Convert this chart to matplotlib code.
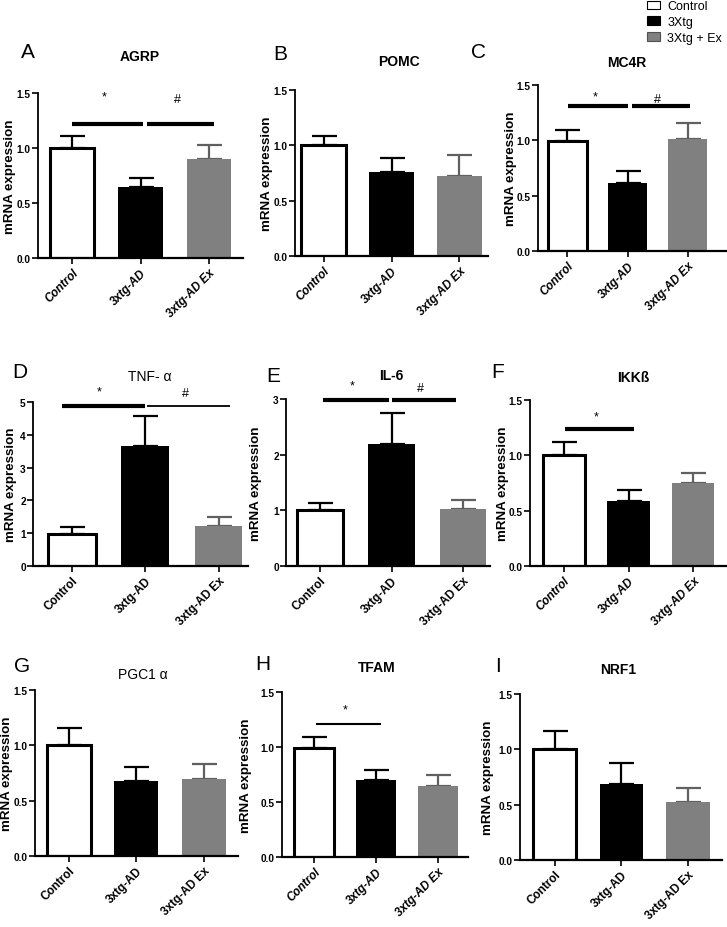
import matplotlib
matplotlib.use('Agg')
import matplotlib.pyplot as plt
from matplotlib.patches import Patch

# data
groups = ['Control', '3xtg-AD', '3xtg-AD Ex']
genes = ['AGRP', 'POMC', 'MC4R', 'TNF- α', 'IL-6', 'IKKß', 'PGC1 α', 'TFAM', 'NRF1']
letters = ['A', 'B', 'C', 'D', 'E', 'F', 'G', 'H', 'I']
mean_control = [1.00, 1.00, 0.99, 0.97, 1.00, 1.00, 1.00, 0.99, 1.00]
mean_ad = [0.65, 0.76, 0.61, 3.66, 2.19, 0.59, 0.68, 0.70, 0.69]
mean_ex = [0.90, 0.72, 1.01, 1.22, 1.03, 0.75, 0.70, 0.65, 0.52]
sem_control = [0.11, 0.08, 0.10, 0.21, 0.13, 0.12, 0.16, 0.10, 0.17]
sem_ad = [0.075, 0.13, 0.115, 0.90, 0.56, 0.10, 0.12, 0.09, 0.19]
sem_ex = [0.125, 0.195, 0.15, 0.28, 0.155, 0.09, 0.135, 0.10, 0.13]
ymax = [1.5, 1.5, 1.5, 5, 3, 1.5, 1.5, 1.5, 1.5]
ystep = [0.5, 0.5, 0.5, 1, 1, 0.5, 0.5, 0.5, 0.5]
legend_labels = ['Control', '3Xtg', '3Xtg + Ex']

# significance bars: panel -> list of (x0, x1, y, symbol, text_y, lw)
sig = {
    0: [(0.0, 1.04, 1.22, '*', 1.47, 3), (1.1, 2.08, 1.22, '#', 1.445, 3)],
    2: [(0.01, 1.0, 1.31, '*', 1.40, 3), (1.07, 2.03, 1.31, '#', 1.37, 3)],
    3: [(-0.14, 0.99, 4.89, '*', 5.33, 3), (1.03, 2.16, 4.89, '#', 5.27, 1.3)],
    4: [(0.04, 0.96, 2.98, '*', 3.25, 3), (1.0, 1.91, 2.98, '#', 3.2, 3)],
    5: [(0.02, 1.08, 1.235, '*', 1.35, 3)],
    7: [(0.03, 1.08, 1.21, '*', 1.34, 1.5)],
}

W, H = 727, 928
# axes boxes in pixels: left, top, right, bottom
boxes = [(38, 94, 243, 259), (295, 91, 488, 257), (538, 86, 727, 252),
         (33, 403, 248, 567), (286, 400, 490, 567), (530, 401, 727, 567),
         (35, 691, 238, 857), (282, 693, 468, 858), (520, 695, 722, 861)]
xlims = [(-0.5, 2.5), (-0.42, 2.42), (-0.49, 2.65),
         (-0.53, 2.4), (-0.48, 2.38), (-0.52, 2.52),
         (-0.5, 2.51), (-0.52, 2.49), (-0.52, 2.51)]
ylab_x = [16, 273, 517, 17, 262, 509, 13, 252, 494]
letter_pos = [(28, 53), (280, 55), (478, 53), (20, 373), (273, 377), (498, 372),
              (22, 667), (263, 665), (498, 667)]
title_pos = [(140, 57), (399, 62), (627, 63), (150, 377), (391, 376), (633, 378),
             (143, 675), (377, 668), (618, 670)]
title_bold = [True, True, True, False, True, True, False, True, True]
italic_ticks = [True, True, True, False, False, True, False, True, False]

narrow = ['Liberation Sans Narrow', 'Liberation Sans', 'DejaVu Sans']
plt.rcParams['font.family'] = ['Liberation Sans', 'DejaVu Sans']

fig = plt.figure(figsize=(W / 100, H / 100), dpi=100)
fill = ['white', 'black', '#808080']
errc = ['black', 'black', '#606060']

for k in range(9):
    l, t, r, b = boxes[k]
    ax = fig.add_axes([l / W, 1 - b / H, (r - l) / W, (b - t) / H])
    means = [mean_control[k], mean_ad[k], mean_ex[k]]
    sems = [sem_control[k], sem_ad[k], sem_ex[k]]
    for i in range(3):
        ax.errorbar(i, means[i], yerr=[[0], [sems[i]]], color=errc[i], lw=1.6,
                    capsize=9, capthick=1.6, zorder=1)
        ax.bar(i, means[i], width=0.65, color=fill[i],
               edgecolor='black' if i == 0 else fill[i], linewidth=2.2 if i == 0 else 0,
               zorder=2)
    ax.set_xlim(*xlims[k])
    ax.set_ylim(0, ymax[k])
    ticks = [j * ystep[k] for j in range(int(round(ymax[k] / ystep[k])) + 1)]
    ax.set_yticks(ticks)
    if ystep[k] == 1:
        ax.set_yticklabels([f'{v:.0f}' for v in ticks])
    else:
        ax.set_yticklabels([f'{v:.1f}' for v in ticks])
    ax.set_xticks(range(3))
    ax.set_xticklabels(groups, rotation=45, ha='right', rotation_mode='anchor',
                       fontsize=8.5, fontweight='bold',
                       fontstyle='italic' if italic_ticks[k] else 'normal')
    for lab in ax.get_yticklabels():
        lab.set_fontweight('bold')
        lab.set_fontsize(7.3)
        lab.set_family(narrow)
    ax.spines['top'].set_visible(False)
    ax.spines['right'].set_visible(False)
    ax.spines['left'].set_linewidth(1.3)
    ax.spines['bottom'].set_linewidth(1.6)
    ax.tick_params(axis='both', direction='out', length=4, width=1.2, pad=2)
    ax.tick_params(axis='y', pad=1.2)
    ax.set_ylabel('mRNA expression', fontsize=9.6, fontweight='bold')
    ax.yaxis.set_label_coords(-(l - ylab_x[k]) / (r - l), 0.5)

    for (x0, x1, y, sym, ty, lw) in sig.get(k, []):
        ax.plot([x0, x1], [y, y], color='black', lw=lw, solid_capstyle='butt', clip_on=False)
        ax.text((x0 + x1) / 2 - 0.05, ty, sym, ha='center', va='center', fontsize=9,
                clip_on=False)

    lx, ly = letter_pos[k]
    fig.text(lx / W, 1 - ly / H, letters[k], ha='center', va='center', fontsize=15)
    tx, ty2 = title_pos[k]
    fig.text(tx / W, 1 - ty2 / H, genes[k], ha='center', va='center', fontsize=10,
             fontweight='bold' if title_bold[k] else 'normal', family=narrow)

handles = [Patch(facecolor=fill[i], edgecolor='black' if i != 2 else '#505050', linewidth=0.8)
           for i in range(3)]
fig.legend(handles, legend_labels, loc='upper right', bbox_to_anchor=(1.0, 1.004),
           frameon=False, fontsize=9, handlelength=1.0, handleheight=0.7,
           labelspacing=0.3, handletextpad=0.6, borderaxespad=0.0)

fig.savefig('out.png', dpi=100)
